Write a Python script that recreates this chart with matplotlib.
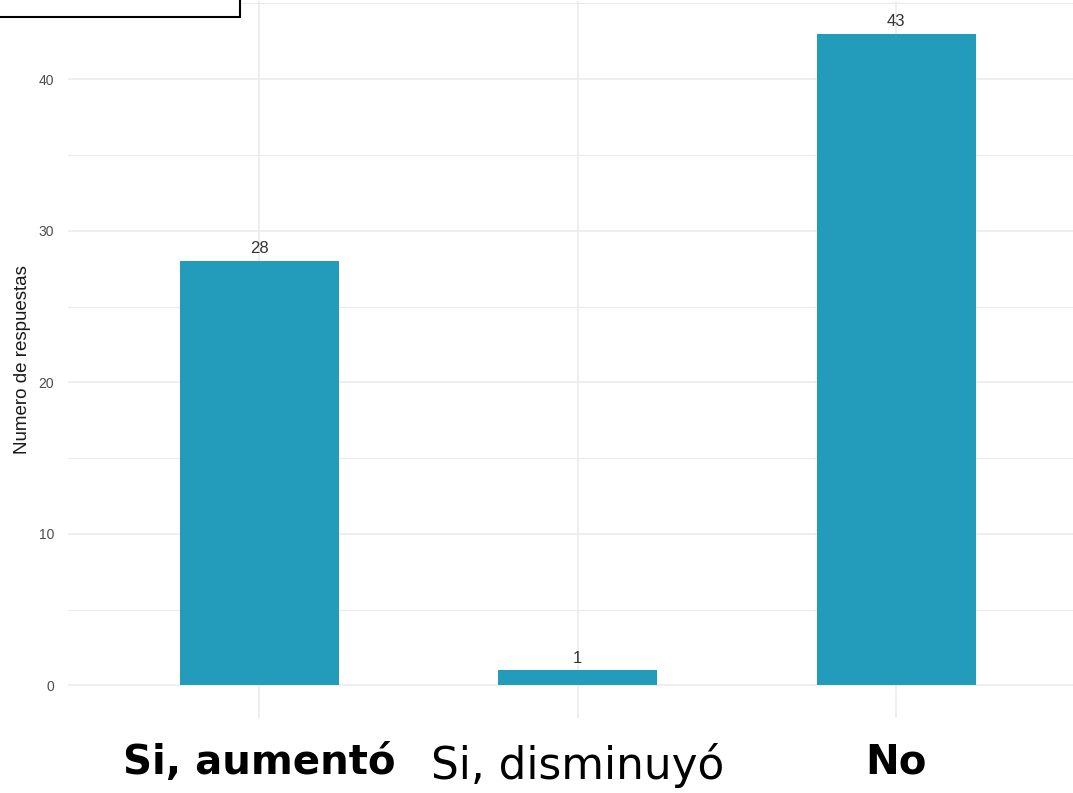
import matplotlib
matplotlib.use("Agg")
import matplotlib.pyplot as plt
from matplotlib.patches import Rectangle

# Data
categories = ["Si, aumentó", "Si, disminuyó", "No"]
respuestas = [28, 1, 43]
label_weights = ["bold", "normal", "bold"]
label_sizes = [29, 31.5, 29]

bar_color = "#229cba"
grid_color = "#ebebeb"
arial_like = ["Liberation Sans", "DejaVu Sans"]

fig = plt.figure(figsize=(10.73, 7.93), dpi=100)
ax = fig.add_axes([0.0634, 0.0946, 0.9366, 0.904])

x = range(1, len(categories) + 1)
ax.bar(x, respuestas, width=0.5, color=bar_color, zorder=3)

# value labels above bars
for xi, v in zip(x, respuestas):
    ax.text(xi, v + 0.3, str(v), ha="center", va="bottom",
            fontsize=12, color="#333333", family=arial_like, zorder=4)

ax.set_xlim(0.4, 3.555)
ax.set_ylim(-2.15, 45.15)

# gridlines like ggplot theme_minimal
ax.set_yticks([0, 10, 20, 30, 40])
ax.set_yticks([5, 15, 25, 35, 45], minor=True)
ax.grid(True, which="major", axis="both", color=grid_color, linewidth=1.2, zorder=0)
ax.grid(True, which="minor", axis="y", color=grid_color, linewidth=0.8, zorder=0)
ax.tick_params(axis="both", which="both", length=0)
ax.tick_params(axis="y", labelsize=10, labelcolor="#4d4d4d", pad=10)
for lbl in ax.get_yticklabels():
    lbl.set_fontfamily(arial_like)

ax.set_xticks(list(x))
ax.set_xticklabels(categories)
ax.tick_params(axis="x", pad=18)
for lbl, w, s in zip(ax.get_xticklabels(), label_weights, label_sizes):
    lbl.set_fontsize(s)
    lbl.set_fontweight(w)
    lbl.set_color("black")

for s in ax.spines.values():
    s.set_visible(False)

ax.set_ylabel("Numero de respuestas", fontsize=13.5, color="#1a1a1a", family=arial_like)
ax.yaxis.set_label_coords(-0.037, 0.5)

# cropped box in the upper left corner
fig.patches.append(Rectangle((-0.01, 0.979), 0.234, 0.04, transform=fig.transFigure,
                             facecolor="white", edgecolor="black", linewidth=1.5,
                             zorder=10))

fig.savefig("out.png", dpi=100)
